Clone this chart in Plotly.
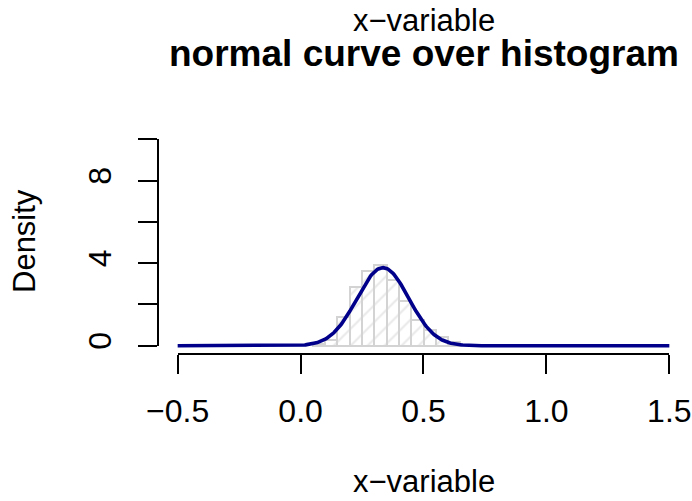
import numpy as np
import plotly.graph_objects as go

# histogram (density scale), bin width 0.05
bin_left = [0.05, 0.10, 0.15, 0.20, 0.25, 0.30, 0.35, 0.40, 0.45, 0.50, 0.55, 0.60]
density = [0.10, 0.30, 1.37, 2.83, 3.64, 3.90, 3.16, 2.18, 1.26, 0.78, 0.40, 0.20]
bin_width = 0.05

# fitted normal curve parameters
curve_mean = 0.335
curve_sd = 0.1055
curve_from, curve_to = -0.5, 1.5

x_ticks = [-0.5, 0.0, 0.5, 1.0, 1.5]
x_ticktext = ["\u22120.5", "0.0", "0.5", "1.0", "1.5"]
y_ticks = [0, 2, 4, 6, 8, 10]
y_ticktext = ["0", "", "4", "", "8", ""]

xlim = [-0.5, 1.5]
ylim = [0, 10]
xr = [xlim[0] - 0.04 * (xlim[1] - xlim[0]), xlim[1] + 0.04 * (xlim[1] - xlim[0])]
yr = [ylim[0] - 0.04 * (ylim[1] - ylim[0]), ylim[1] + 0.04 * (ylim[1] - ylim[0])]

cx = np.linspace(curve_from, curve_to, 501)
cy = np.exp(-0.5 * ((cx - curve_mean) / curve_sd) ** 2) / (curve_sd * np.sqrt(2 * np.pi))

FONT = "Liberation Sans, Arial, Helvetica, sans-serif"

fig = go.Figure()
fig.add_trace(go.Bar(
    x=[b + bin_width / 2 for b in bin_left], y=density, width=bin_width,
    marker=dict(color="white", line=dict(color="#D3D3D3", width=2),
                pattern=dict(shape="/", fgcolor="#D3D3D3", bgcolor="white", size=12, solidity=0.18)),
    showlegend=False, hoverinfo="skip"))
fig.add_trace(go.Scatter(x=cx, y=cy, mode="lines", line=dict(color="#00008B", width=3.6),
                         showlegend=False, hoverinfo="skip"))
# invisible trace to carry the decorative axes
fig.add_trace(go.Scatter(x=xlim, y=ylim, xaxis="x2", yaxis="y2", mode="markers",
                         marker=dict(opacity=0), showlegend=False, hoverinfo="skip"))

def frac(v, r):
    return (v - r[0]) / (r[1] - r[0])

fig.update_layout(
    width=692, height=501,
    margin=dict(l=158, r=3, t=131, b=147, pad=0, autoexpand=False),
    paper_bgcolor="white", plot_bgcolor="rgba(0,0,0,0)",
    font=dict(family=FONT, color="black"),
    bargap=0,
    xaxis=dict(range=xr, visible=False, domain=[0, 1], automargin=False),
    yaxis=dict(range=yr, visible=False, domain=[0, 1], automargin=False),
    xaxis2=dict(range=xlim, domain=[frac(xlim[0], xr), frac(xlim[1], xr)],
                anchor="free", position=0, showline=True, linecolor="black", linewidth=2,
                ticks="outside", ticklen=19, tickwidth=2, tickcolor="black",
                tickmode="array", tickvals=x_ticks, ticktext=x_ticktext,
                tickfont=dict(size=32, family=FONT), ticklabelstandoff=10,
                showgrid=False, zeroline=False, automargin=False),
    yaxis2=dict(range=ylim, domain=[frac(ylim[0], yr), frac(ylim[1], yr)],
                anchor="free", position=0, showline=True, linecolor="black", linewidth=2,
                ticks="outside", ticklen=19, tickwidth=2, tickcolor="black",
                tickmode="array", tickvals=y_ticks, ticktext=y_ticktext, tickangle=-90,
                tickfont=dict(size=32, family=FONT), ticklabelstandoff=14,
                showgrid=False, zeroline=False, automargin=False),
    annotations=[
        dict(text="<b>normal curve over histogram</b>", xref="paper", yref="paper",
             x=0.5, y=(354 - 67) / 223, xanchor="center", yanchor="bottom", yshift=-9,
             showarrow=False, font=dict(size=37, family=FONT)),
        dict(text="x\u2212variable", xref="paper", yref="paper",
             x=0.5, y=(354 - 32) / 223, xanchor="center", yanchor="bottom", yshift=-8,
             showarrow=False, font=dict(size=31, family=FONT)),
        dict(text="x\u2212variable", xref="paper", yref="paper",
             x=0.5, y=(354 - 493) / 223, xanchor="center", yanchor="bottom", yshift=-8,
             showarrow=False, font=dict(size=31, family=FONT)),
        dict(text="Density", xref="paper", yref="paper",
             x=(24 - 158) / 531, y=(354 - 241) / 223, xanchor="center", yanchor="middle",
             textangle=-90, showarrow=False, font=dict(size=31, family=FONT)),
    ],
)

fig.write_html("out.html", config={"displayModeBar": False},
               post_script="document.body.style.margin='0';document.body.style.overflow='hidden';")
